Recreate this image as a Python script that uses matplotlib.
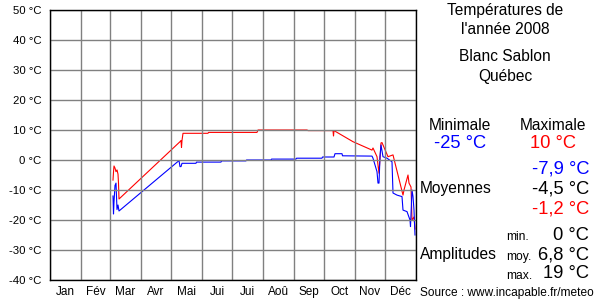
"""Températures de l'année 2008 - Blanc Sablon, Québec."""

import matplotlib
matplotlib.use("Agg")
import matplotlib.pyplot as plt

plt.rcParams['font.family'] = ['Liberation Sans', 'DejaVu Sans']

# day of year (0 = 1 Jan) and daily maximum temperature (°C)
max_days = [63, 63.5, 64, 65, 66, 67, 68, 68.5, 69, 130, 131, 131.5, 132, 133,
            158, 158.5, 207, 208, 257, 258, 283, 283.5, 284, 303, 322, 323,
            327, 329, 331, 332, 338, 343, 345, 353, 354, 358, 359, 361, 362,
            364, 365]
max_temp = [-6.7, -4, -2, -2.7, -3.9, -3.3, -4.7, -7.7, -13, 6.1, 6.5, 4.2,
            6.5, 8.9, 8.9, 9.2, 9.2, 10, 10, 9.8, 9.8, 8, 9.8, 6.1, 3.3, 4,
            1.1, -4.4, 5.7, 5.8, 1.1, 1.7, -1, -11.7, -10, -5, -7.7, -9,
            -20, -19, -23]

# day of year and daily minimum temperature (°C)
min_days = [63, 63.5, 64, 65, 66, 67, 68, 69, 129, 130, 131, 132, 146, 146.5,
            171, 171.5, 196, 196.5, 221, 221.5, 246, 246.5, 272, 272.5, 284,
            285, 292, 292.5, 322, 323, 327, 328, 329, 330, 331, 333, 337, 342,
            343, 347, 352, 353, 357, 360, 360.5, 362, 363, 364, 365]
min_temp = [-12, -18, -14, -8.5, -7.7, -16.5, -15, -17, -0.2, -2.2, -2.2,
            -1.1, -1.1, -0.7, -0.7, -0.3, -0.3, 0, 0, 0.3, 0.3, 0.6, 0.6,
            1.0, 1.0, 2.1, 2.1, 1.4, 1.3, 0.6, -3.9, -7.7, -7.7, 1.1, 5,
            1.1, 0.6, -0.6, -11, -11.7, -12.2, -16.7, -17.2, -20, -22.2,
            -10, -12.2, -16.7, -25]

month_starts = [0, 31, 60, 91, 121, 152, 182, 213, 244, 274, 305, 335, 366]
month_labels = ['Jan', 'Fév', 'Mar', 'Avr', 'Mai', 'Jui', 'Jui', 'Aoû',
                'Sep', 'Oct', 'Nov', 'Déc']
y_ticks = [-40, -30, -20, -10, 0, 10, 20, 30, 40, 50]

fig = plt.figure(figsize=(6, 3), dpi=100)
ax = fig.add_axes([50 / 600, 20 / 300, 366 / 600, 270 / 300])

ax.plot(max_days, max_temp, color='#ff0000', linewidth=0.8, zorder=2)
ax.plot(min_days, min_temp, color='#0000ff', linewidth=0.8, zorder=2)

ax.set_xlim(0, 366)
ax.set_ylim(-40, 50)
ax.set_xticks(month_starts)
ax.set_xticklabels([])
ax.set_xticks([(a + b) / 2 for a, b in zip(month_starts[:-1], month_starts[1:])],
              minor=True)
ax.set_xticklabels(month_labels, minor=True, fontsize=8.5)
ax.set_yticks(y_ticks)
ax.set_yticklabels([f'{t} °C' for t in y_ticks], fontsize=8.2)
ax.tick_params(which='both', length=0, pad=4)
ax.tick_params(axis='y', pad=6)
ax.grid(True, which='major', color='#808080', linewidth=1.0, zorder=3)
ax.set_axisbelow(False)
for sp in ax.spines.values():
    sp.set_color('black')
    sp.set_linewidth(1.0)
    sp.set_zorder(4)

# right-hand panel
def px(x, y):
    return x / 600, 1 - y / 300

def txt(x, y, s, size=11.2, color='black', ha='center'):
    fig.text(*px(x, y), s, fontsize=size, color=color, ha=ha, va='center')

txt(505, 10, 'Températures de')
txt(505, 30, "l'année 2008")
txt(505, 57, 'Blanc Sablon')
txt(505, 77, 'Québec')

txt(460, 125, 'Minimale')
txt(553, 125, 'Maximale')
txt(460, 143, '-25 °C', size=13.2, color='#0000ff')
txt(553, 143, '10 °C', size=13.2, color='#ff0000')

txt(589, 169, '-7,9 °C', size=13.2, color='#0000ff', ha='right')
txt(420, 189, 'Moyennes', ha='left')
txt(589, 189, '-4,5 °C', size=13.2, ha='right')
txt(589, 209, '-1,2 °C', size=13.2, color='#ff0000', ha='right')

txt(506, 237, 'min.', size=8.7, ha='left')
txt(589, 235, '0 °C', size=13.2, ha='right')
txt(420, 255, 'Amplitudes', ha='left')
txt(506, 257, 'moy.', size=8.7, ha='left')
txt(589, 255, '6,8 °C', size=13.2, ha='right')
txt(506, 276, 'max.', size=8.7, ha='left')
txt(589, 274, '19 °C', size=13.2, ha='right')

txt(420, 293, 'Source : www.incapable.fr/meteo', size=8.6, ha='left')

fig.savefig('out.png', dpi=100)
